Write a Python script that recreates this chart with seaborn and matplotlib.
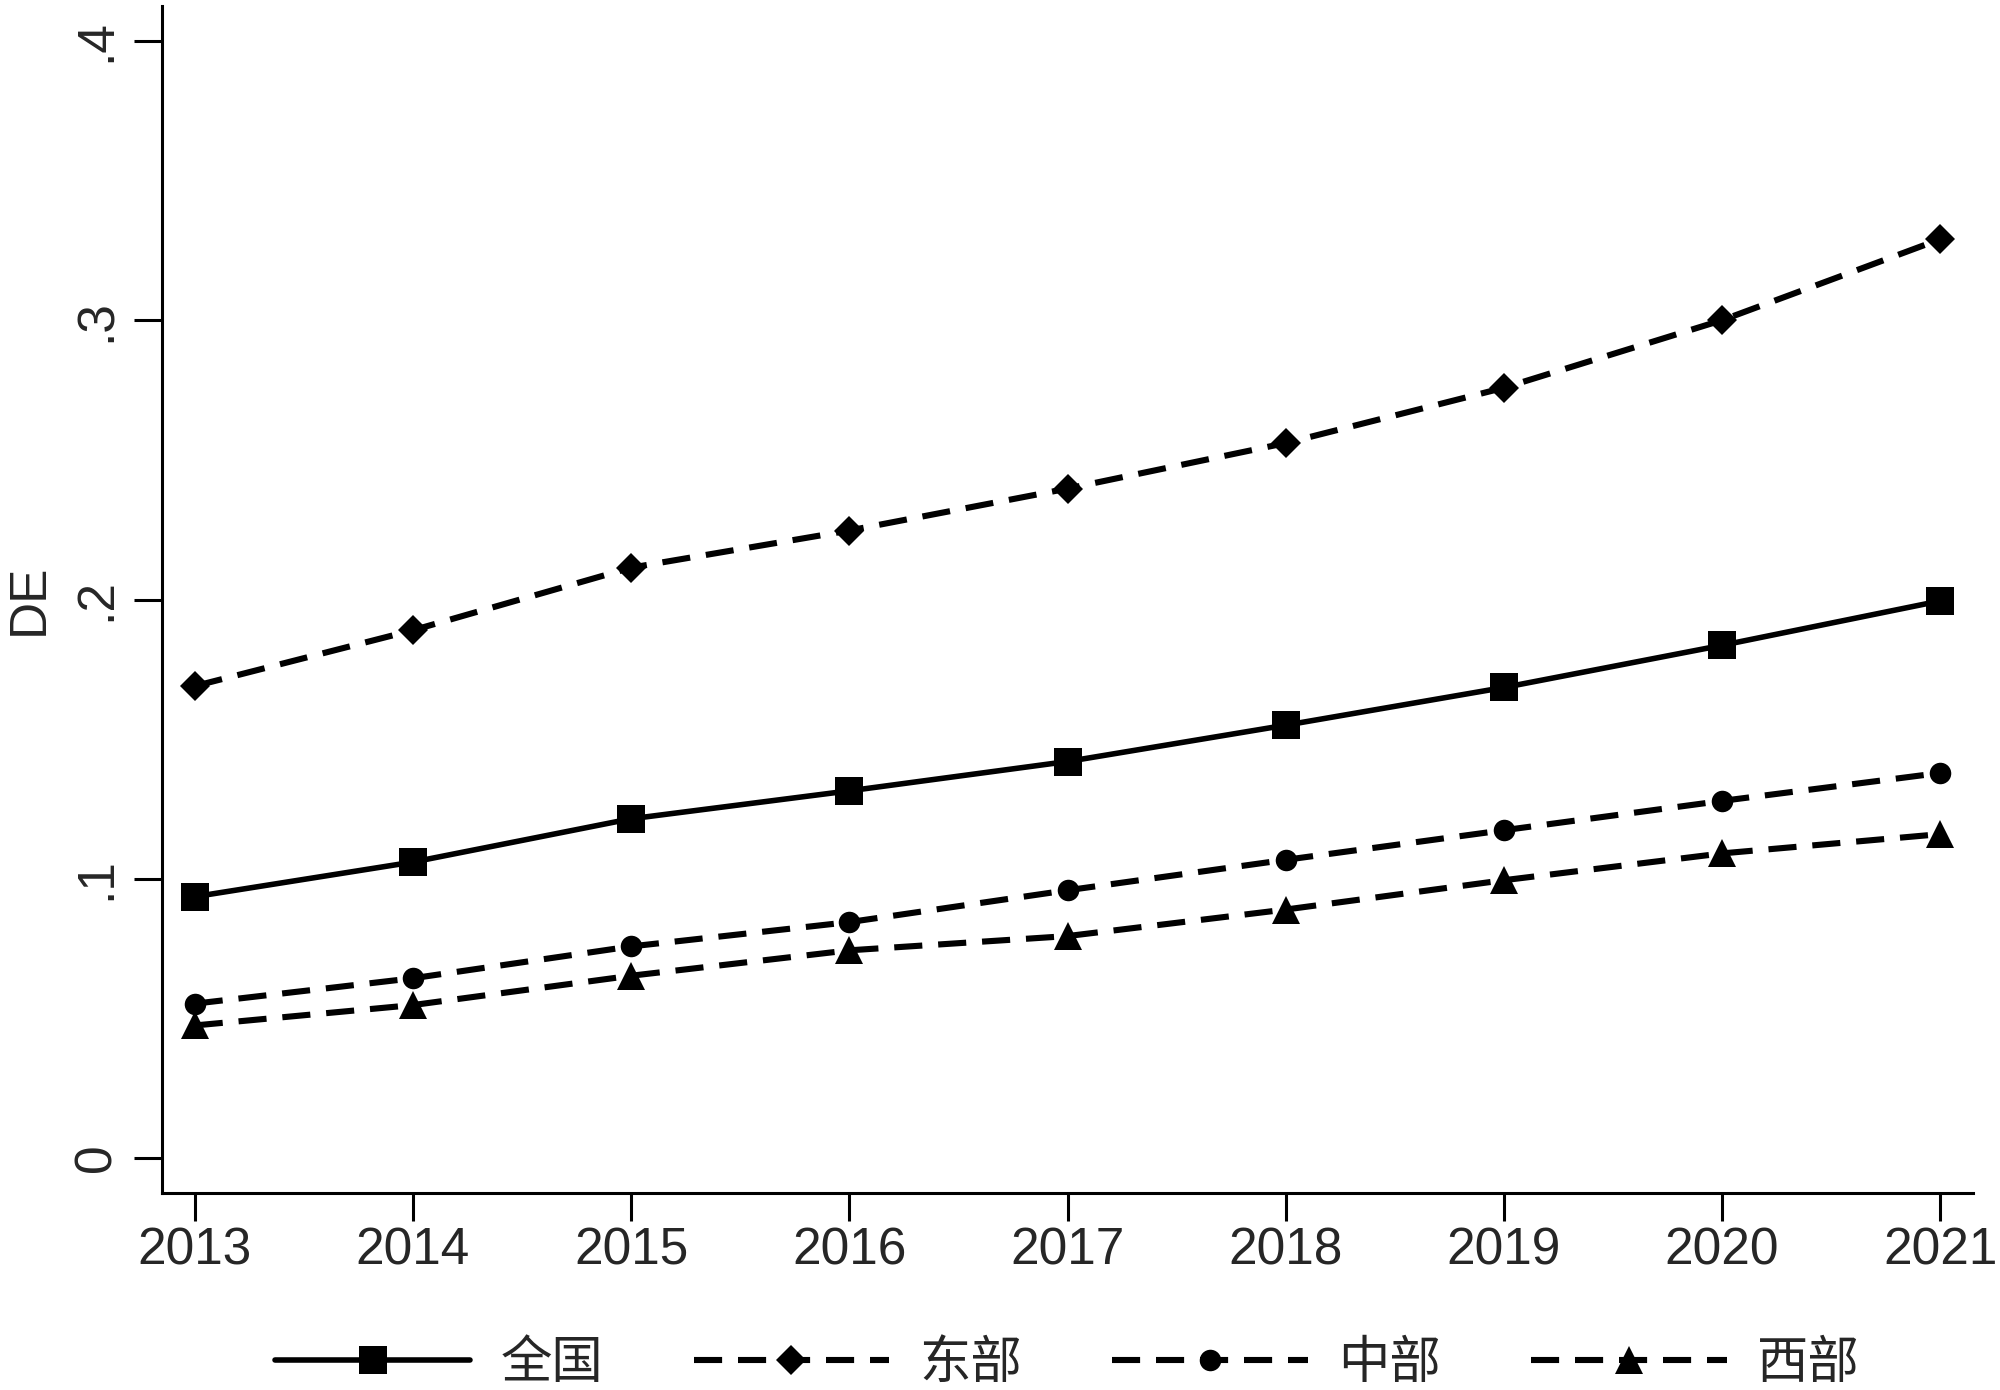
import pandas as pd
import numpy as np
import seaborn as sns
import matplotlib.pyplot as plt

sns.set_style('white')
plt.rcParams['font.family'] = ['Liberation Sans', 'Noto Sans CJK SC']

# data
years = [2013, 2014, 2015, 2016, 2017, 2018, 2019, 2020, 2021]
quanguo = [0.0936, 0.106, 0.1215, 0.1315, 0.142, 0.155, 0.1685, 0.1836, 0.1995]
dongbu = [0.169, 0.189, 0.2114, 0.2247, 0.2397, 0.256, 0.2758, 0.300, 0.329]
zhongbu = [0.0553, 0.0644, 0.0758, 0.0845, 0.0959, 0.1068, 0.1174, 0.1279, 0.1379]
xibu = [0.0475, 0.0548, 0.0653, 0.0744, 0.0795, 0.089, 0.0995, 0.1091, 0.116]
y_ticks = [0, 0.1, 0.2, 0.3, 0.4]
y_ticklabels = ['0', '.1', '.2', '.3', '.4']

dash = (0, (4.6, 2.6))
series = [
    ('全国', quanguo, 's', 20, '-', 4.0),
    ('东部', dongbu, 'D', 15, dash, 4.4),
    ('中部', zhongbu, 'o', 15.5, dash, 4.4),
    ('西部', xibu, '^', 19.5, dash, 4.4),
]

fig = plt.figure(figsize=(20, 13.9), dpi=100)
ax = fig.add_axes([0.081, 0.1417, 0.9055, 0.854])

for name, vals, mk, ms, ls, lw in series:
    df = pd.DataFrame({'year': years, 'DE': vals})
    sns.lineplot(data=df, x='year', y='DE', ax=ax, color='black', marker=mk,
                 markersize=ms, markeredgewidth=0, linewidth=lw,
                 linestyle=ls, label=name)

ax.set_xlim(2012.85, 2021.15)
ax.set_ylim(-0.0125, 0.4125)
ax.set_xticks(years)
ax.set_xticklabels([str(y) for y in years])
ax.set_yticks(y_ticks)
ax.set_yticklabels(y_ticklabels, rotation=90, va='center')
ax.set_xlabel('')
ax.set_ylabel('DE', fontsize=37, labelpad=14)

for s in ['top', 'right']:
    ax.spines[s].set_visible(False)
for s in ['left', 'bottom']:
    ax.spines[s].set_linewidth(2.2)
    ax.spines[s].set_color('black')

ax.tick_params(axis='both', direction='out', length=20, width=2.2,
               color='black', labelsize=37, left=True, bottom=True)
ax.tick_params(axis='y', pad=9)
ax.tick_params(axis='x', pad=4)

ax.legend(loc='upper center', bbox_to_anchor=(0.5, -0.085), ncol=4,
          frameon=False, fontsize=37, handlelength=3.8, handletextpad=0.6,
          columnspacing=1.75)

fig.savefig('out.png', dpi=100)
